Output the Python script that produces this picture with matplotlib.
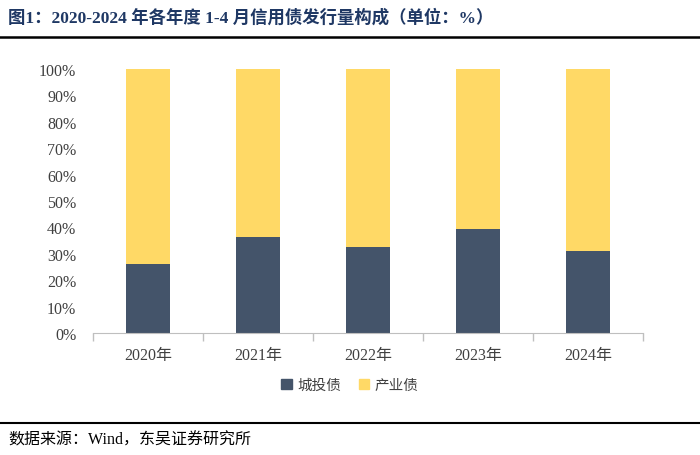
import matplotlib.pyplot as plt
from matplotlib.lines import Line2D
from matplotlib.patches import Patch

years = ['2020年', '2021年', '2022年', '2023年', '2024年']
chengtou = [26.1, 36.4, 32.7, 39.3, 31.0]
chanye = [100 - v for v in chengtou]
yticks = [0, 10, 20, 30, 40, 50, 60, 70, 80, 90, 100]

dark = '#44546A'
yellow = '#FFD966'
serif_cjk = ['Liberation Serif', 'Noto Sans CJK SC']

fig = plt.figure(figsize=(7, 4.56), dpi=100)
ax = fig.add_axes([93 / 700, 1 - 334 / 456, 550 / 700, 264 / 456])

x = list(range(len(years)))
ax.bar(x, chengtou, width=0.4, color=dark, label='城投债')
ax.bar(x, chanye, width=0.4, bottom=chengtou, color=yellow, label='产业债')

ax.set_xlim(-0.5, len(years) - 0.5)
ax.set_ylim(0, 100)
ax.set_yticks(yticks)
ax.set_yticklabels([f'{v}%' for v in yticks], family=serif_cjk, fontsize=11.5, color='#404040')
ax.tick_params(axis='y', length=0, pad=12)

ax.set_xticks(x)
ax.set_xticklabels(years, family=serif_cjk, fontsize=11.5, color='#404040')
ax.tick_params(axis='x', length=0, pad=10)
# category boundary ticks
ax.set_xticks([i - 0.5 for i in range(len(years) + 1)], minor=True)
ax.tick_params(axis='x', which='minor', length=6, color='#BFBFBF', width=1)

for s in ['top', 'right', 'left']:
    ax.spines[s].set_visible(False)
ax.spines['bottom'].set_color('#BFBFBF')

handles = [Patch(color=dark, label='城投债'), Patch(color=yellow, label='产业债')]
fig.legend(handles=handles, loc='center', bbox_to_anchor=(0.5, 1 - 386 / 456), ncol=2,
           frameon=False, prop={'family': 'Noto Sans CJK SC', 'size': 10.5},
           handlelength=0.7, handleheight=0.7, handletextpad=0.4, columnspacing=1.2,
           labelcolor='#404040')

fig.text(0.012, 1 - 18 / 456, '图1：2020-2024 年各年度 1-4 月信用债发行量构成（单位：%）',
         family=serif_cjk, fontsize=12.5, fontweight='bold', color='#1F3864', va='center')
fig.add_artist(Line2D([0, 1], [1 - 38 / 456] * 2, color='black', lw=1.8, transform=fig.transFigure))
fig.add_artist(Line2D([0, 1], [1 - 424 / 456] * 2, color='black', lw=1.5, transform=fig.transFigure))
fig.text(0.012, 1 - 441 / 456, '数据来源：Wind，东吴证券研究所',
         family=serif_cjk, fontsize=11.5, color='black', va='center')

fig.savefig('out.png', dpi=100)
